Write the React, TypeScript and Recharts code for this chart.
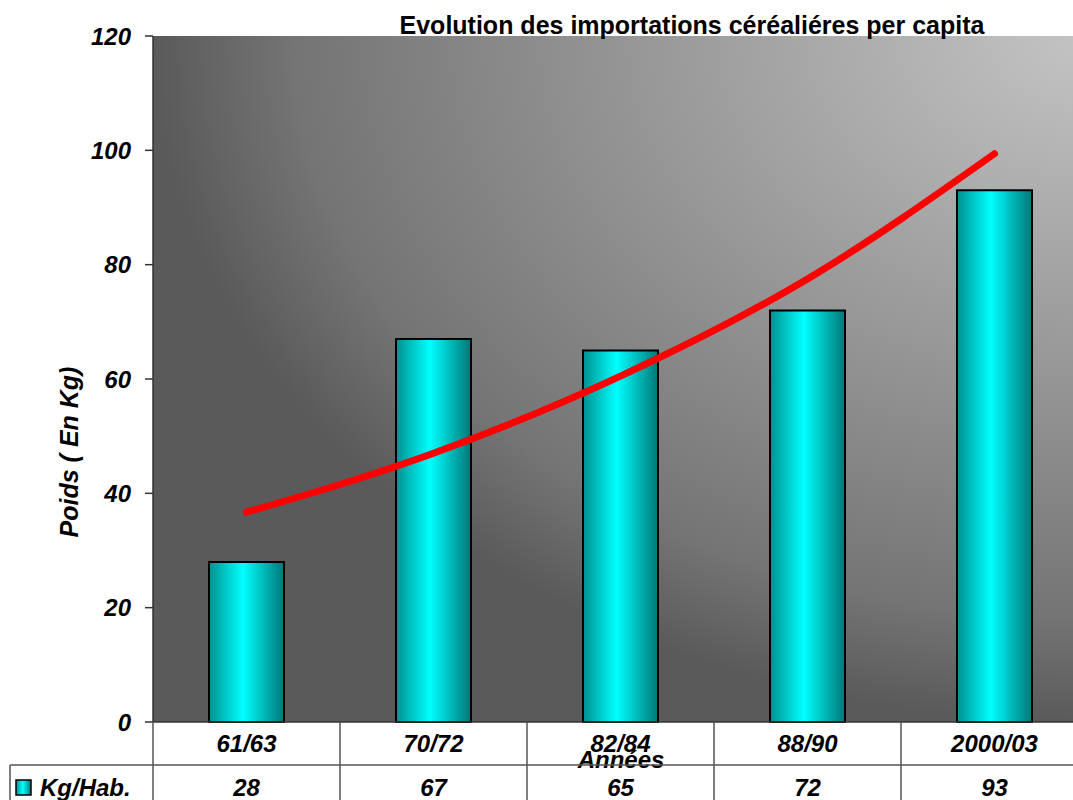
import React from "react";
import {
  ComposedChart,
  Bar,
  Line,
  XAxis,
  YAxis,
  CartesianGrid,
} from "recharts";

// Valeurs
const categories = ["61/63", "70/72", "82/84", "88/90", "2000/03"];
const kgParHab = [28, 67, 65, 72, 93];
// courbe de tendance (exponentielle), relevée à chaque période
const tendance = [36.7, 47, 60.5, 77.5, 99.4];
const yTicks = [0, 20, 40, 60, 80, 100, 120];

const CHART_W = 1088;
const CHART_H = 800;
const Y_AXIS_W = 153;
const CELL = (CHART_W - Y_AXIS_W) / categories.length;
const FONT = "'Liberation Sans', Arial, sans-serif";

const data = categories.map((annee, i) => ({
  annee,
  kg: kgParHab[i],
  tendance: tendance[i],
}));

const textStyle = {
  fontFamily: FONT,
  fontWeight: 700,
  fontStyle: "italic" as const,
  fontSize: 24,
  fill: "#000",
};

// Each x tick draws its own column of the data table under the plot
function TableTick(props: any) {
  const { x, y, payload, index } = props;
  const half = CELL / 2;
  const lineColor = "#555";
  return (
    <g>
      <line x1={x - half} x2={x - half} y1={y} y2={CHART_H} stroke={lineColor} strokeWidth={1.5} />
      <text x={x} y={y + 30} textAnchor="middle" style={textStyle}>
        {payload.value}
      </text>
      <text x={x} y={y + 73.5} textAnchor="middle" style={textStyle}>
        {kgParHab[index]}
      </text>
      {index === 0 && (
        <g>
          <line x1={10} x2={CHART_W} y1={y + 43} y2={y + 43} stroke={lineColor} strokeWidth={1.5} />
          <line x1={10} x2={10} y1={y + 43} y2={CHART_H} stroke={lineColor} strokeWidth={1.5} />
          <rect x={16} y={y + 58} width={15} height={15} fill="url(#barGrad)" stroke="#000" strokeWidth={1.5} />
          <text x={40} y={y + 73.5} textAnchor="start" style={textStyle}>
            Kg/Hab.
          </text>
        </g>
      )}
    </g>
  );
}

export default function App() {
  return (
    <div
      style={{
        position: "absolute",
        left: 0,
        top: 0,
        width: 1073,
        height: 800,
        overflow: "hidden",
        background: "#fff",
      }}
    >
      <ComposedChart
        width={CHART_W}
        height={CHART_H}
        data={data}
        margin={{ top: 36, right: 0, bottom: 0, left: 0 }}
        barCategoryGap={0}
      >
        <defs>
          <radialGradient id="bgGrad" cx="1" cy="0" r="1" fx="1" fy="0">
            <stop offset="0%" stopColor="#c4c4c4" />
            <stop offset="45%" stopColor="#9a9a9a" />
            <stop offset="85%" stopColor="#747474" />
            <stop offset="100%" stopColor="#5a5a5a" />
          </radialGradient>
          <linearGradient id="barGrad" x1="0" y1="0" x2="1" y2="0">
            <stop offset="0%" stopColor="#009090" />
            <stop offset="45%" stopColor="#00ffff" />
            <stop offset="100%" stopColor="#007777" />
          </linearGradient>
        </defs>
        <CartesianGrid horizontal={false} vertical={false} fill="url(#bgGrad)" fillOpacity={1} />
        <XAxis
          dataKey="annee"
          height={CHART_H - 722}
          interval={0}
          tickLine={false}
          tickSize={0}
          tickMargin={0}
          axisLine={{ stroke: "#333", strokeWidth: 1.5 }}
          tick={<TableTick />}
        />
        <YAxis
          width={Y_AXIS_W}
          domain={[0, 120]}
          ticks={yTicks}
          interval={0}
          tickSize={8}
          tickMargin={14}
          axisLine={{ stroke: "#333", strokeWidth: 1.5 }}
          tickLine={{ stroke: "#333", strokeWidth: 1.5 }}
          tick={textStyle}
        />
        <Bar
          dataKey="kg"
          barSize={75}
          fill="url(#barGrad)"
          stroke="#000"
          strokeWidth={2}
          isAnimationActive={false}
        />
        <Line
          dataKey="tendance"
          type="monotone"
          stroke="#ff0000"
          strokeWidth={7}
          strokeLinecap="round"
          dot={false}
          activeDot={false}
          isAnimationActive={false}
        />
        <text
          x={692}
          y={34}
          textAnchor="middle"
          style={{ fontFamily: FONT, fontWeight: 700, fontSize: 25, fill: "#000" }}
        >
          Evolution des importations céréaliéres per capita
        </text>
        <text x={621} y={768} textAnchor="middle" style={textStyle}>
          Années
        </text>
        <text
          x={78}
          y={452}
          textAnchor="middle"
          transform="rotate(-90 78 452)"
          style={{ ...textStyle, fontSize: 25 }}
        >
          Poids ( En Kg)
        </text>
      </ComposedChart>
    </div>
  );
}
